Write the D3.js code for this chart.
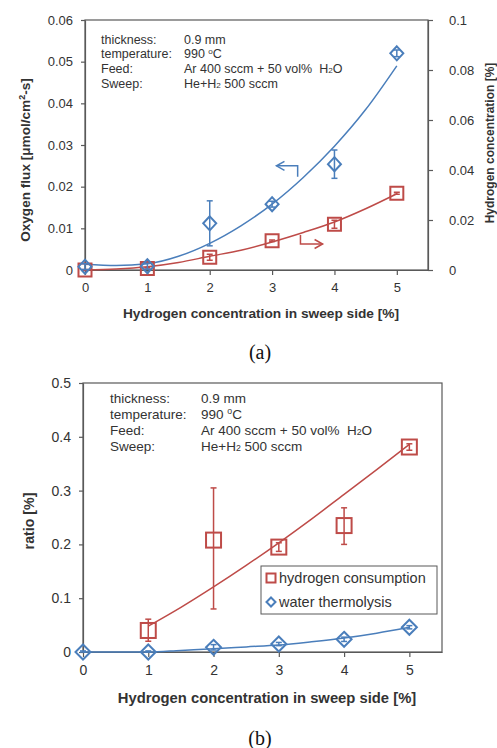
<!DOCTYPE html>
<html>
<head>
<meta charset="utf-8">
<script src="https://cdn.jsdelivr.net/npm/d3@7"></script>
<style>
  body { margin: 0; background: #fff; }
  svg { display: block; font-family: "Liberation Sans", Arial, sans-serif; }
</style>
</head>
<body>
<div id="chart"></div>
<script>
// ---- data ----
const hydrogen = [0, 1, 2, 3, 4, 5]
const xTicks = [0, 1, 2, 3, 4, 5]

// panel (a): oxygen flux (left axis) and hydrogen concentration (right axis)
const fluxTicks = [0, 0.01, 0.02, 0.03, 0.04, 0.05, 0.06]
const concTicks = [0, 0.02, 0.04, 0.06, 0.08, 0.1]
const fluxValues = [0.0008, 0.0009, 0.0112, 0.0158, 0.0254, 0.0520]
const fluxErrors = [0.0007, 0.0007, 0.0054, 0.0007, 0.0034, 0.0008]
const concValues = [0.0000, 0.0006, 0.0051, 0.0117, 0.0183, 0.0307]
const concErrors = [0.0002, 0.0003, 0.0012, 0.0003, 0.0016, 0.0004]
const trendX = [0, 0.5, 1, 1.5, 2, 2.5, 3, 3.5, 4, 4.5, 5]
const fluxTrend = [0.0014, 0.0011, 0.0015, 0.0033, 0.0064, 0.0106, 0.0158, 0.0222, 0.0297, 0.0385, 0.0490]
const concTrend = [0.0000, 0.0004, 0.0013, 0.0030, 0.0055, 0.0079, 0.0112, 0.0150, 0.0192, 0.0245, 0.0305]
// axis pointer arrows [x, value]
const fluxArrow = [[3.41, 0.0224], [3.41, 0.0250], [3.07, 0.0250]]
const concArrow = [[3.455, 0.0140], [3.455, 0.0104], [3.81, 0.0104]]

// panel (b): ratio
const ratioTicks = [0, 0.1, 0.2, 0.3, 0.4, 0.5]
const consumptionX = [1, 2, 3, 4, 5]
const consumption = [0.040, 0.208, 0.195, 0.235, 0.381]
const consumptionErrLo = [0.020, 0.128, 0.008, 0.035, 0.006]
const consumptionErrHi = [0.021, 0.097, 0.008, 0.033, 0.006]
const thermolysis = [0.000, 0.000, 0.0087, 0.0148, 0.0236, 0.0460]
const thermolysisErr = [0.002, 0.002, 0.005, 0.003, 0.004, 0.003]
const consumptionTrendX = [1, 1.5, 2, 2.5, 3, 3.5, 4, 4.5, 5]
const consumptionTrend = [0.048, 0.083, 0.121, 0.161, 0.203, 0.247, 0.293, 0.339, 0.386]
const thermolysisTrend = [0, 0, 0, 0.003, 0.006, 0.0095, 0.013, 0.019, 0.026, 0.035, 0.046]

const conditionLabels = ['thickness:', 'temperature:', 'Feed:', 'Sweep:']

// ---- styles ----
const blue = '#4a7ebb'
const red = '#be4b48'
const axisColor = '#595959'
const textColor = '#333'
const fmt = d3.format('~g')

const svg = d3.select('#chart').append('svg')
  .attr('width', 497)
  .attr('height', 748)

function styleAxis (g, size) {
  g.selectAll('.domain, .tick line').attr('stroke', axisColor).attr('stroke-width', 1.2)
  g.selectAll('text').attr('font-size', size).attr('fill', textColor)
    .attr('font-family', '"Liberation Sans", Arial, sans-serif')
}

function square (g, cx, cy, s, color) {
  g.append('rect')
    .attr('x', cx - s / 2).attr('y', cy - s / 2)
    .attr('width', s).attr('height', s)
    .attr('fill', 'none').attr('stroke', color).attr('stroke-width', 2)
}

function diamond (g, cx, cy, w, h, color) {
  g.append('path')
    .attr('d', `M${cx},${cy - h / 2}L${cx + w / 2},${cy}L${cx},${cy + h / 2}L${cx - w / 2},${cy}Z`)
    .attr('fill', 'none').attr('stroke', color).attr('stroke-width', 2)
}

function errorBar (g, cx, y0, y1, color) {
  g.append('line').attr('x1', cx).attr('x2', cx).attr('y1', y0).attr('y2', y1)
    .attr('stroke', color).attr('stroke-width', 1.5)
  ;[y0, y1].forEach(y => {
    g.append('line').attr('x1', cx - 3).attr('x2', cx + 3).attr('y1', y).attr('y2', y)
      .attr('stroke', color).attr('stroke-width', 1.5)
  })
}

function conditions (g, x0, x1, y0, step, size) {
  const t = g.append('g').attr('font-size', size).attr('fill', textColor)
  conditionLabels.forEach((d, i) => {
    t.append('text').attr('x', x0).attr('y', y0 + i * step).text(d)
  })
  t.append('text').attr('x', x1).attr('y', y0).text('0.9 mm')
  const temp = t.append('text').attr('x', x1).attr('y', y0 + step)
  temp.append('tspan').text('990 ')
  temp.append('tspan').attr('font-size', size * 0.65).attr('dy', -size * 0.35).text('o')
  temp.append('tspan').attr('dy', size * 0.35).text('C')
  const feed = t.append('text').attr('x', x1).attr('y', y0 + 2 * step)
  feed.append('tspan').text('Ar 400 sccm + 50 vol%\u00a0 H')
  feed.append('tspan').attr('font-size', size * 0.65).text('2')
  feed.append('tspan').text('O')
  const sweep = t.append('text').attr('x', x1).attr('y', y0 + 3 * step)
  sweep.append('tspan').text('He+H')
  sweep.append('tspan').attr('font-size', size * 0.65).text('2')
  sweep.append('tspan').text(' 500 sccm')
}

// ================= panel (a) =================
const xA = d3.scaleLinear().domain([0, 5.5]).range([85, 428])
const yA = d3.scaleLinear().domain([0, 0.06]).range([270, 20])
const yA2 = d3.scaleLinear().domain([0, 0.1]).range([270, 20])
const gA = svg.append('g')

gA.append('rect').attr('x', 85).attr('y', 20).attr('width', 343).attr('height', 250)
  .attr('fill', 'none').attr('stroke', axisColor).attr('stroke-width', 1.2)

gA.append('g').attr('transform', 'translate(0,270)')
  .call(d3.axisBottom(xA).tickValues(xTicks).tickSize(5).tickSizeOuter(0).tickPadding(8).tickFormat(fmt))
  .call(g => styleAxis(g, 13))
gA.append('g').attr('transform', 'translate(85,0)')
  .call(d3.axisLeft(yA).tickValues(fluxTicks).tickSize(4).tickSizeOuter(0).tickPadding(8).tickFormat(fmt))
  .call(g => styleAxis(g, 13))
gA.append('g').attr('transform', 'translate(428,0)')
  .call(d3.axisRight(yA2).tickValues(concTicks).tickSize(5).tickSizeOuter(0).tickPadding(16).tickFormat(fmt))
  .call(g => styleAxis(g, 13))

const lineA = d3.line().curve(d3.curveMonotoneX)
gA.append('path')
  .attr('d', lineA(trendX.map((x, i) => [xA(x), yA(fluxTrend[i])])))
  .attr('fill', 'none').attr('stroke', blue).attr('stroke-width', 1.5)
gA.append('path')
  .attr('d', lineA(trendX.map((x, i) => [xA(x), yA2(concTrend[i])])))
  .attr('fill', 'none').attr('stroke', red).attr('stroke-width', 1.5)

hydrogen.forEach((h, i) => {
  errorBar(gA, xA(h), yA2(concValues[i] - concErrors[i]), yA2(concValues[i] + concErrors[i]), red)
  square(gA, xA(h), yA2(concValues[i]), 13, red)
})
hydrogen.forEach((h, i) => {
  errorBar(gA, xA(h), yA(fluxValues[i] - fluxErrors[i]), yA(fluxValues[i] + fluxErrors[i]), blue)
  diamond(gA, xA(h), yA(fluxValues[i]), 13, 14, blue)
})

// pointer arrows
const fluxPts = fluxArrow.map(d => [xA(d[0]), yA(d[1])])
gA.append('path').attr('d', d3.line()(fluxPts))
  .attr('fill', 'none').attr('stroke', blue).attr('stroke-width', 1.5)
const ft = fluxPts[2]
gA.append('path').attr('d', `M${ft[0] + 8},${ft[1] - 4.5}L${ft[0]},${ft[1]}L${ft[0] + 8},${ft[1] + 4.5}`)
  .attr('fill', 'none').attr('stroke', blue).attr('stroke-width', 1.5)
const concPts = concArrow.map(d => [xA(d[0]), yA2(d[1])])
gA.append('path').attr('d', d3.line()(concPts))
  .attr('fill', 'none').attr('stroke', red).attr('stroke-width', 1.5)
const ct = concPts[2]
gA.append('path').attr('d', `M${ct[0] - 8},${ct[1] - 4.5}L${ct[0]},${ct[1]}L${ct[0] - 8},${ct[1] + 4.5}`)
  .attr('fill', 'none').attr('stroke', red).attr('stroke-width', 1.5)

conditions(gA, 101, 184, 43.5, 14.7, 12.5)

gA.append('text').attr('x', 261).attr('y', 318).attr('text-anchor', 'middle')
  .attr('font-size', 13.7).attr('font-weight', 'bold').attr('fill', textColor)
  .text('Hydrogen concentration in sweep side [%]')
const yLabA = gA.append('text').attr('transform', 'translate(25,160) rotate(-90)')
  .attr('text-anchor', 'middle').attr('dy', '0.35em')
  .attr('font-size', 13.6).attr('font-weight', 'bold').attr('fill', textColor)
yLabA.append('tspan').text('Oxygen flux [\u03bcmol/cm')
yLabA.append('tspan').attr('font-size', 9).attr('dy', -5).text('2')
yLabA.append('tspan').attr('dy', 5).text('-s]')
gA.append('text').attr('transform', 'translate(490,143) rotate(-90)')
  .attr('text-anchor', 'middle').attr('dy', '0.35em')
  .attr('font-size', 12).attr('font-weight', 'bold').attr('fill', textColor)
  .text('Hydrogen concentration [%]')

svg.append('text').attr('x', 260).attr('y', 359).attr('text-anchor', 'middle')
  .attr('font-family', '"Liberation Serif", "Times New Roman", serif').attr('font-size', 20)
  .attr('fill', '#111').text('(a)')

// ================= panel (b) =================
const xB = d3.scaleLinear().domain([0, 5.5]).range([83, 442])
const yB = d3.scaleLinear().domain([0, 0.5]).range([652, 383])
const gB = svg.append('g')

gB.append('rect').attr('x', 83).attr('y', 383).attr('width', 359).attr('height', 269)
  .attr('fill', 'none').attr('stroke', axisColor).attr('stroke-width', 1.2)

gB.append('g').attr('transform', 'translate(0,652)')
  .call(d3.axisBottom(xB).tickValues(xTicks).tickSize(5).tickSizeOuter(0).tickPadding(8).tickFormat(fmt))
  .call(g => styleAxis(g, 14))
gB.append('g').attr('transform', 'translate(83,0)')
  .call(d3.axisLeft(yB).tickValues(ratioTicks).tickSize(4).tickSizeOuter(0).tickPadding(8).tickFormat(fmt))
  .call(g => styleAxis(g, 14))

const lineB = d3.line().curve(d3.curveMonotoneX)
gB.append('path')
  .attr('d', lineB(consumptionTrendX.map((x, i) => [xB(x), yB(consumptionTrend[i])])))
  .attr('fill', 'none').attr('stroke', red).attr('stroke-width', 1.5)
gB.append('path')
  .attr('d', lineB(trendX.map((x, i) => [xB(x), yB(thermolysisTrend[i])])))
  .attr('fill', 'none').attr('stroke', blue).attr('stroke-width', 1.5)

consumptionX.forEach((h, i) => {
  errorBar(gB, xB(h), yB(consumption[i] - consumptionErrLo[i]), yB(consumption[i] + consumptionErrHi[i]), red)
  square(gB, xB(h), yB(consumption[i]), 15, red)
})
hydrogen.forEach((h, i) => {
  errorBar(gB, xB(h), yB(Math.max(0, thermolysis[i] - thermolysisErr[i])), yB(thermolysis[i] + thermolysisErr[i]), blue)
  diamond(gB, xB(h), yB(thermolysis[i]), 15, 15, blue)
})

conditions(gB, 110, 201, 402.5, 16.1, 13.5)

// legend
const leg = gB.append('g')
leg.append('rect').attr('x', 261).attr('y', 566).attr('width', 176).attr('height', 48)
  .attr('fill', '#fff').attr('stroke', axisColor).attr('stroke-width', 1)
square(leg, 271, 578, 9, red)
diamond(leg, 271, 602, 9, 9, blue)
leg.append('text').attr('x', 279).attr('y', 583).attr('font-size', 14.5).attr('fill', textColor)
  .text('hydrogen consumption')
leg.append('text').attr('x', 279).attr('y', 607).attr('font-size', 14.5).attr('fill', textColor)
  .text('water thermolysis')

gB.append('text').attr('x', 267).attr('y', 703).attr('text-anchor', 'middle')
  .attr('font-size', 14.8).attr('font-weight', 'bold').attr('fill', textColor)
  .text('Hydrogen concentration in sweep side [%]')
gB.append('text').attr('transform', 'translate(29,521) rotate(-90)')
  .attr('text-anchor', 'middle').attr('dy', '0.35em')
  .attr('font-size', 14.2).attr('font-weight', 'bold').attr('fill', textColor)
  .text('ratio [%]')

svg.append('text').attr('x', 260).attr('y', 745).attr('text-anchor', 'middle')
  .attr('font-family', '"Liberation Serif", "Times New Roman", serif').attr('font-size', 20)
  .attr('fill', '#111').text('(b)')
</script>
</body>
</html>
